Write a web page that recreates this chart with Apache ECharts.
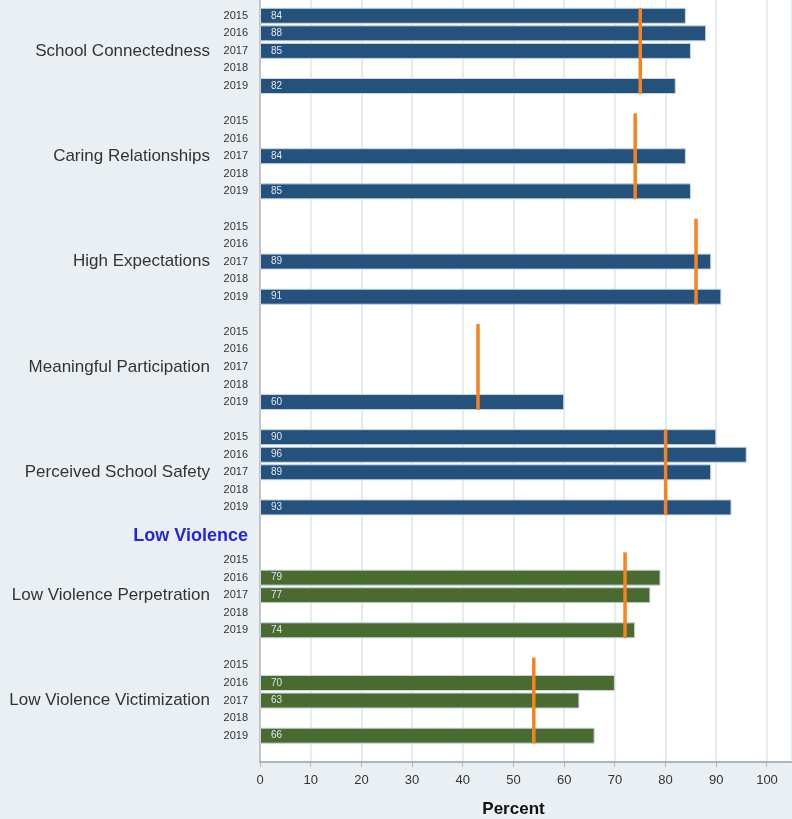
<!DOCTYPE html>
<html>
<head>
<meta charset="utf-8">
<script src="https://cdn.jsdelivr.net/npm/echarts@6/dist/echarts.min.js"></script>
<style>
html,body{margin:0;padding:0;background:#e9eff2;}
#chart{width:792px;height:819px;}
</style>
</head>
<body>
<div id="chart"></div>
<script>
var years = ['2015', '2016', '2017', '2018', '2019'];
var groups = ['School Connectedness', 'Caring Relationships', 'High Expectations', 'Meaningful Participation',
    'Perceived School Safety', 'Low Violence Perpetration', 'Low Violence Victimization'];
// values per year (2015..2019), null = no data
var schoolConnectedness = [84, 88, 85, null, 82];
var caringRelationships = [null, null, 84, null, 85];
var highExpectations = [null, null, 89, null, 91];
var meaningfulParticipation = [null, null, null, null, 60];
var perceivedSafety = [90, 96, 89, null, 93];
var lowViolencePerp = [null, 79, 77, null, 74];
var lowViolenceVict = [null, 70, 63, null, 66];
var groupValues = [schoolConnectedness, caringRelationships, highExpectations, meaningfulParticipation,
    perceivedSafety, lowViolencePerp, lowViolenceVict];
// orange reference values
var benchmarks = [75, 74, 86, 43, 80, 72, 54];
var sectionHeader = 'Low Violence';
var headerBefore = 5;

var blue = '#24527c', green = '#4a6b2f';

// build the slots of the category axis
var slotKeys = [], yearLabels = [], groupLabels = [], barData = [], benchData = [];
groups.forEach(function (g, gi) {
    if (gi === headerBefore) {
        slotKeys.push('hdr');
        yearLabels.push('{hdr|' + sectionHeader + '}');
        groupLabels.push('');
        barData.push('-');
    }
    var start = slotKeys.length;
    years.forEach(function (y, yi) {
        slotKeys.push(gi + '-' + y);
        yearLabels.push(y);
        groupLabels.push(yi === 2 ? g : '');
        var v = groupValues[gi][yi];
        barData.push(v == null ? '-' : {value: v, itemStyle: {color: gi >= headerBefore ? green : blue}});
    });
    benchData.push([benchmarks[gi], start, start + years.length - 1]);
    slotKeys.push(gi + '-gap');
    yearLabels.push('');
    groupLabels.push('');
    barData.push('-');
});

var chart = echarts.init(document.getElementById('chart'));
var option = {
    animation: false,
    backgroundColor: '#e9eff2',
    textStyle: {fontFamily: 'Liberation Sans, Arial, sans-serif'},
    grid: [
        {left: 260, right: 25, top: 7, bottom: 57, outerBoundsMode: 'none'},
        {left: 260, right: 0, top: 0, bottom: 57, outerBoundsMode: 'none', show: true, backgroundColor: '#ffffff', borderWidth: 0}
    ],
    xAxis: [
        {
            gridIndex: 0, type: 'value', min: 0, max: 100, interval: 10,
            axisLine: {show: false}, axisTick: {show: false}, splitLine: {show: false},
            axisLabel: {fontSize: 13, color: '#333', margin: 12},
            name: 'Percent', nameLocation: 'middle', nameGap: 39,
            nameTextStyle: {fontSize: 17, fontWeight: 'bold', color: '#111'}
        },
        {
            gridIndex: 1, type: 'value', min: 0, max: 105, interval: 10,
            axisLine: {show: true, lineStyle: {color: '#b4b4b4', width: 2}},
            axisTick: {show: true, length: 5, lineStyle: {color: '#b4b4b4'}},
            axisLabel: {show: false},
            splitLine: {show: true, lineStyle: {color: '#e3ecf1', width: 2}}
        }
    ],
    yAxis: [
        {
            gridIndex: 0, type: 'category', data: slotKeys, inverse: true,
            axisLine: {show: false}, axisTick: {show: false},
            axisLabel: {
                interval: 0, fontSize: 11, color: '#333', margin: 12,
                formatter: function (v, i) { return yearLabels[i]; },
                rich: {hdr: {fontSize: 18, fontWeight: 'bold', color: '#2424e6', padding: [0, 0, 12, 0]}}
            }
        },
        {
            gridIndex: 0, type: 'category', data: slotKeys, inverse: true, position: 'left',
            axisLine: {show: false}, axisTick: {show: false},
            axisLabel: {
                interval: 0, fontSize: 17, color: '#333', margin: 50,
                formatter: function (v, i) { return groupLabels[i]; }
            }
        },
        {
            gridIndex: 1, type: 'value', min: 0, max: 1,
            axisLine: {show: true, lineStyle: {color: '#c4c4c4', width: 2}},
            axisTick: {show: false}, axisLabel: {show: false}, splitLine: {show: false}
        }
    ],
    series: [
        {
            type: 'bar', xAxisIndex: 0, yAxisIndex: 0, barWidth: 16,
            data: barData,
            itemStyle: {borderColor: '#c9d6e2', borderWidth: 1},
            label: {show: true, position: 'insideLeft', distance: 11, fontSize: 10, color: '#dfe7ef'}
        },
        {
            type: 'custom', xAxisIndex: 0, yAxisIndex: 0, z: 5,
            data: benchData,
            encode: {x: 0, y: [1, 2]},
            renderItem: function (params, api) {
                var top = api.coord([api.value(0), api.value(1)]);
                var bot = api.coord([api.value(0), api.value(2)]);
                var half = api.size([0, 1])[1] * 0.44;
                return {
                    type: 'line',
                    shape: {x1: top[0], y1: top[1] - half, x2: bot[0], y2: bot[1] + half},
                    style: {stroke: '#f7821e', lineWidth: 3.5}
                };
            }
        }
    ]
};
chart.setOption(option);
</script>
</body>
</html>
